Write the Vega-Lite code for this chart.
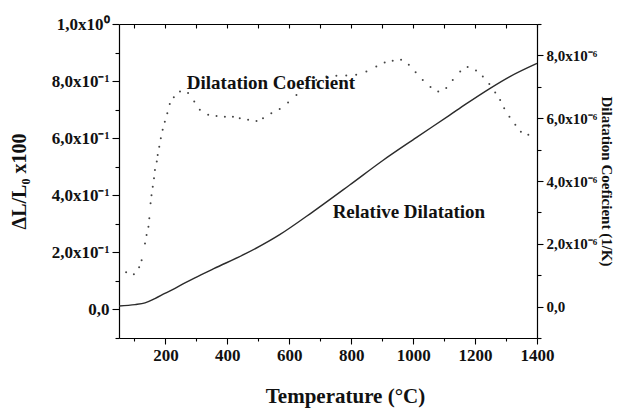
{
  "$schema": "https://vega.github.io/schema/vega-lite/v6.json",
  "width": 418,
  "height": 314,
  "autosize": {"type": "none"},
  "padding": {"left": 119, "top": 24, "right": 82, "bottom": 73},
  "background": "white",
  "config": {
    "view": {"stroke": null},
    "axis": {
      "labelFont": "Liberation Serif",
      "titleFont": "Liberation Serif",
      "labelFontWeight": "bold",
      "titleFontWeight": "bold",
      "domainColor": "#000",
      "domainWidth": 1.2,
      "tickColor": "#000",
      "tickWidth": 1.1,
      "labelColor": "#111",
      "titleColor": "#111",
      "grid": false
    }
  },
  "datasets": {
    "rel": [
      {"T": 50, "rel": 0.012}, {"T": 102, "rel": 0.017}, {"T": 134, "rel": 0.023},
      {"T": 166, "rel": 0.038}, {"T": 198, "rel": 0.056}, {"T": 231, "rel": 0.074},
      {"T": 263, "rel": 0.093}, {"T": 295, "rel": 0.111}, {"T": 356, "rel": 0.143},
      {"T": 462, "rel": 0.197}, {"T": 569, "rel": 0.262}, {"T": 676, "rel": 0.342},
      {"T": 795, "rel": 0.436}, {"T": 902, "rel": 0.522}, {"T": 1010, "rel": 0.602},
      {"T": 1117, "rel": 0.68}, {"T": 1171, "rel": 0.72}, {"T": 1246, "rel": 0.773},
      {"T": 1311, "rel": 0.815}, {"T": 1400, "rel": 0.862}
    ],
    "coef": [
      {"T": 73, "coef": 1.09}, {"T": 98, "coef": 1.03}, {"T": 115, "coef": 1.25}, {"T": 123, "coef": 1.48},
      {"T": 134, "coef": 2.01}, {"T": 139, "coef": 2.28}, {"T": 145, "coef": 2.54}, {"T": 148, "coef": 2.81},
      {"T": 152, "coef": 3.29}, {"T": 155, "coef": 3.55}, {"T": 159, "coef": 3.82}, {"T": 163, "coef": 4.09},
      {"T": 166, "coef": 4.35}, {"T": 172, "coef": 4.62}, {"T": 175, "coef": 4.83}, {"T": 180, "coef": 5.09},
      {"T": 185, "coef": 5.36}, {"T": 191, "coef": 5.63}, {"T": 198, "coef": 5.89}, {"T": 206, "coef": 6.16},
      {"T": 214, "coef": 6.45}, {"T": 227, "coef": 6.67}, {"T": 247, "coef": 6.85}, {"T": 273, "coef": 6.8},
      {"T": 293, "coef": 6.53}, {"T": 311, "coef": 6.27}, {"T": 338, "coef": 6.11}, {"T": 365, "coef": 6.07},
      {"T": 392, "coef": 6.05}, {"T": 418, "coef": 6.05}, {"T": 440, "coef": 6.0}, {"T": 467, "coef": 5.95},
      {"T": 494, "coef": 5.91}, {"T": 515, "coef": 6.0}, {"T": 542, "coef": 6.16}, {"T": 569, "coef": 6.29},
      {"T": 596, "coef": 6.5}, {"T": 623, "coef": 6.74}, {"T": 655, "coef": 7.01}, {"T": 687, "coef": 7.22},
      {"T": 720, "coef": 7.33}, {"T": 752, "coef": 7.35}, {"T": 784, "coef": 7.36}, {"T": 816, "coef": 7.38},
      {"T": 849, "coef": 7.49}, {"T": 881, "coef": 7.65}, {"T": 908, "coef": 7.77}, {"T": 934, "coef": 7.83},
      {"T": 961, "coef": 7.86}, {"T": 986, "coef": 7.7}, {"T": 1008, "coef": 7.46}, {"T": 1031, "coef": 7.22},
      {"T": 1056, "coef": 6.99}, {"T": 1081, "coef": 6.85}, {"T": 1107, "coef": 6.96}, {"T": 1128, "coef": 7.22},
      {"T": 1152, "coef": 7.49}, {"T": 1176, "coef": 7.63}, {"T": 1203, "coef": 7.52}, {"T": 1225, "coef": 7.33},
      {"T": 1246, "coef": 7.09}, {"T": 1265, "coef": 6.82}, {"T": 1281, "coef": 6.58}, {"T": 1294, "coef": 6.32},
      {"T": 1311, "coef": 6.05}, {"T": 1330, "coef": 5.79}, {"T": 1348, "coef": 5.57}, {"T": 1372, "coef": 5.47}
    ],
    "labels": [
      {"T": 269, "rel": 0.793, "label": "Dilatation Coeficient"},
      {"T": 740, "rel": 0.342, "label": "Relative Dilatation"}
    ]
  },
  "layer": [
    {
      "data": {"name": "rel"},
      "mark": {"type": "line", "interpolate": "monotone", "color": "#2b2b2b", "strokeWidth": 1.4},
      "encoding": {
        "x": {
          "field": "T", "type": "quantitative",
          "scale": {"domain": [50, 1400], "nice": false, "zero": false},
          "axis": {
            "orient": "bottom",
            "values": [100, 200, 300, 400, 500, 600, 700, 800, 900, 1000, 1100, 1200, 1300, 1400],
            "labelExpr": "datum.value % 200 == 0 ? datum.value : ''",
            "tickSize": {"condition": {"test": "datum.value % 200 == 0", "value": 6}, "value": 3},
            "labelFontSize": 17,
            "labelPadding": 3,
            "labelFlush": false,
            "labelOverlap": false,
            "title": "Temperature (°C)",
            "titleFontSize": 21,
            "titlePadding": 22,
            "titleX": 226,
            "titleAnchor": "start",
            "titleAlign": "center"
          }
        },
        "y": {
          "field": "rel", "type": "quantitative",
          "scale": {"domain": [-0.1, 1.0], "nice": false, "zero": false},
          "axis": {
            "orient": "left",
            "values": [-0.1, 0, 0.1, 0.2, 0.3, 0.4, 0.5, 0.6, 0.7, 0.8, 0.9, 1.0],
            "labelExpr": "round(datum.value*10) == 0 ? '0,0' : round(datum.value*10) == 10 ? '1,0x10⁰' : (round(datum.value*10) % 2 == 0 && datum.value > 0) ? round(datum.value*10) + ',0x10⁻¹' : ''",
            "tickSize": {"condition": {"test": "round(datum.value*10) % 2 == 0", "value": 7}, "value": 4},
            "labelFontSize": 17,
            "labelPadding": 3,
            "labelFlush": false,
            "labelOverlap": false,
            "title": "ΔL/L₀ x100",
            "titleFontSize": 20,
            "titlePadding": 22
          }
        }
      }
    },
    {
      "data": {"name": "coef"},
      "mark": {"type": "point", "filled": true, "size": 4, "color": "#444", "opacity": 1},
      "encoding": {
        "x": {
          "field": "T", "type": "quantitative",
          "scale": {"domain": [50, 1400], "nice": false, "zero": false},
          "axis": {
            "orient": "top",
            "values": [100, 200, 300, 400, 500, 600, 700, 800, 900, 1000, 1100, 1200, 1300, 1400],
            "labels": false,
            "tickSize": -4,
            "title": null
          }
        },
        "y": {
          "field": "coef", "type": "quantitative",
          "scale": {"domain": [-1, 9], "nice": false, "zero": false},
          "axis": {
            "orient": "right",
            "values": [-1, 0, 1, 2, 3, 4, 5, 6, 7, 8, 9],
            "labelExpr": "datum.value == 0 ? '0,0' : (datum.value % 2 == 0 && datum.value > 0 && datum.value < 9) ? datum.value + ',0x10⁻⁶' : ''",
            "tickSize": {"condition": {"test": "datum.value % 2 == 0", "value": 6}, "value": 4},
            "labelFontSize": 15,
            "labelPadding": 3,
            "labelFlush": false,
            "labelOverlap": false,
            "title": "Dilatation Coeficient (1/K)",
            "titleFontSize": 15,
            "titlePadding": 2
          }
        }
      }
    },
    {
      "data": {"name": "labels"},
      "mark": {"type": "text", "align": "left", "baseline": "middle", "font": "Liberation Serif", "fontWeight": "bold", "fontSize": 19, "color": "#111"},
      "encoding": {
        "x": {"field": "T", "type": "quantitative", "scale": {"domain": [50, 1400], "nice": false, "zero": false}, "axis": null},
        "y": {"field": "rel", "type": "quantitative", "scale": {"domain": [-0.1, 1.0], "nice": false, "zero": false}, "axis": null},
        "text": {"field": "label"}
      }
    }
  ],
  "resolve": {"scale": {"y": "independent"}, "axis": {"x": "independent", "y": "independent"}}
}
